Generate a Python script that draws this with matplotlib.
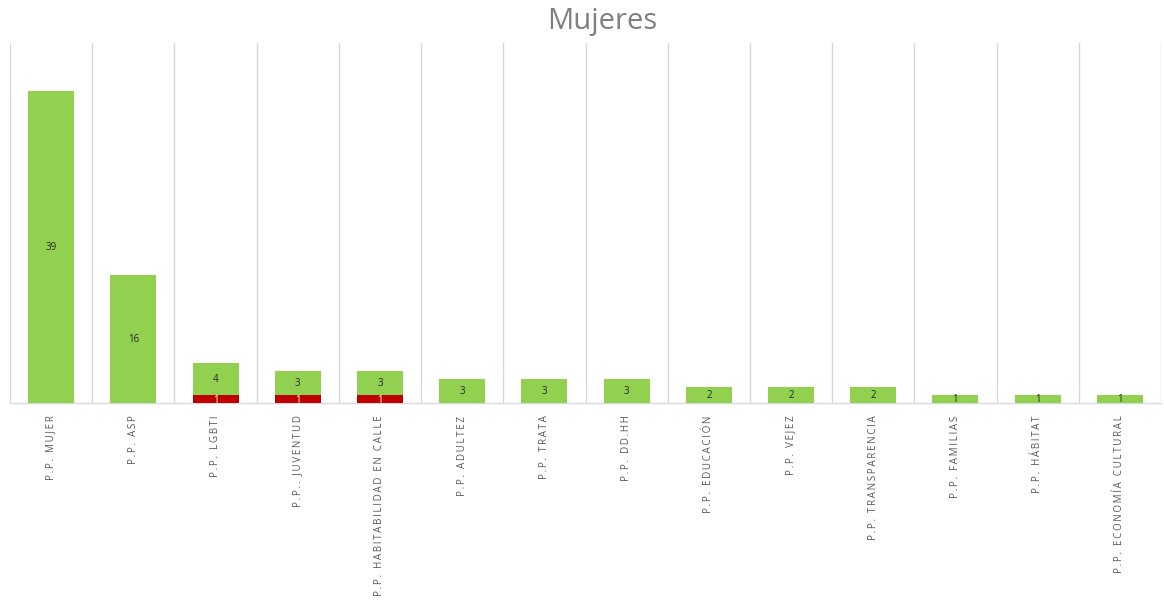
import matplotlib
matplotlib.use("Agg")
import matplotlib.pyplot as plt
import numpy as np

categories = ["P.P. Mujer", "P.P. ASP", "P.P. LGBTI", "P.P.. Juventud",
              "P.P. Habitabilidad en Calle", "P.P. Adultez", "P.P. Trata",
              "P.P. DD.HH", "P.P. Educación", "P.P. Vejez", "P.P. Transparencia",
              "P.P. Familias", "P.P. Hábitat", "P.P. Economía cultural"]
red_values = [0, 0, 1, 1, 1, 0, 0, 0, 0, 0, 0, 0, 0, 0]
green_values = [39, 16, 4, 3, 3, 3, 3, 3, 2, 2, 2, 1, 1, 1]
title = "Mujeres"

GREEN = "#92D050"
RED = "#C00000"
GRID = "#d9d9d9"

plt.rcParams['font.family'] = ['Open Sans', 'DejaVu Sans']

fig = plt.figure(figsize=(11.64, 6.03), dpi=100)
ax = fig.add_axes([10/1164, 200/603, 1151/1164, 360/603])

x = np.arange(len(categories))
red = np.array(red_values)
green = np.array(green_values)
w = 0.56
ax.bar(x, red, width=w, color=RED, zorder=3)
ax.bar(x, green, width=w, bottom=red, color=GREEN, zorder=3)

for xi, r, g in zip(x, red, green):
    if r > 0:
        ax.text(xi, r / 2 - 0.2, str(r), ha="center", va="center",
                fontsize=7, color="white", zorder=4)
    ax.text(xi, r + g / 2, str(g), ha="center", va="center",
            fontsize=7, color="#262626", zorder=4)

ax.set_xlim(-0.5, len(categories) - 0.5)
ax.set_ylim(0, 45)
for b in np.arange(-0.5, len(categories), 1.0):
    ax.axvline(b, color=GRID, lw=1, zorder=1)
for s in ["top", "right", "left"]:
    ax.spines[s].set_visible(False)
ax.spines["bottom"].set_color(GRID)
ax.spines["bottom"].set_linewidth(1)
ax.set_yticks([])
ax.set_xticks(x)

def spaced(s):
    return "\u2009".join(s.upper())

ax.set_xticklabels([spaced(c) for c in categories], rotation=90, fontsize=7.1,
                   color="#595959", va="top", ha="center")
ax.tick_params(axis="x", length=0, pad=9)

fig.text(0.5175, 1 - 22/603, title, ha="center", va="center",
         fontsize=21, color="#7f7f7f")

fig.savefig("out.png", dpi=100)
